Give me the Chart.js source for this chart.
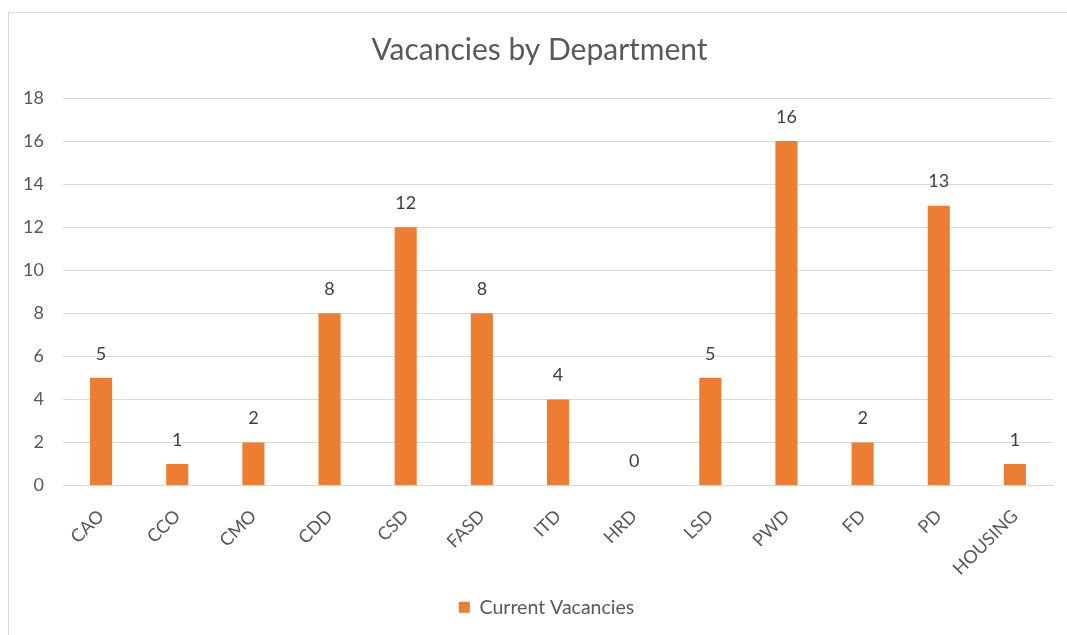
<!DOCTYPE html>
<html>
<head>
<meta charset="utf-8">
<script src="https://cdn.jsdelivr.net/npm/chart.js@4"></script>
<style>
  html, body { margin: 0; padding: 0; background: #fff; overflow: hidden; }
  #frame { position: absolute; left: 8px; top: 12px; width: 1080px; height: 640px; border: 1px solid #d9d9d9; }
  #holder { position: absolute; left: 0; top: 0; width: 1067px; height: 635px; }
</style>
</head>
<body>
<div id="frame"></div>
<div id="holder"><canvas id="myChart"></canvas></div>
<script>
const departments = ['CAO', 'CCO', 'CMO', 'CDD', 'CSD', 'FASD', 'ITD', 'HRD', 'LSD', 'PWD', 'FD', 'PD', 'HOUSING']
const vacancies = [5, 1, 2, 8, 12, 8, 4, 0, 5, 16, 2, 13, 1]
const yTicks = [0, 2, 4, 6, 8, 10, 12, 14, 16, 18]

const textColor = '#595959'
const fontFamily = 'Lato, "Open Sans", sans-serif'

// draws the value above each bar, like the excel data labels
const barValues = {
    id: 'barValues',
    afterDatasetsDraw(chart) {
        const ctx = chart.ctx
        const meta = chart.getDatasetMeta(0)
        ctx.save()
        ctx.fillStyle = '#404040'
        ctx.font = '18px ' + fontFamily
        ctx.textAlign = 'center'
        ctx.textBaseline = 'middle'
        meta.data.forEach((bar, i) => {
            ctx.fillText(String(vacancies[i]), bar.x, bar.y - 24)
        })
        ctx.restore()
    }
}

// excel centres title and legend a bit further right than chart.js does
const nudgeBoxes = {
    id: 'nudgeBoxes',
    afterLayout(chart) {
        chart.titleBlock.left += 13
        chart.titleBlock.right += 13
        chart.legend.left += 20
        chart.legend.right += 20
    }
}

const ctx = document.getElementById('myChart')
const myChart = new Chart(ctx, {
    type: 'bar',
    data: {
        labels: departments,
        datasets: [{
            label: 'Current Vacancies',
            data: vacancies,
            backgroundColor: '#ED7D31',
            borderWidth: 0,
            categoryPercentage: 1,
            barPercentage: 0.29
        }]
    },
    options: {
        responsive: true,
        maintainAspectRatio: false,
        animation: false,
        layout: { padding: { left: 0, right: 14, top: 0, bottom: 8 } },
        scales: {
            y: {
                min: 0,
                max: 18,
                afterBuildTicks(axis) { axis.ticks = yTicks.map(v => ({ value: v })) },
                afterFit(axis) { axis.width = 63 },
                grid: { color: '#d9d9d9', drawTicks: false },
                border: { display: false },
                ticks: { color: textColor, padding: 19, font: { family: fontFamily, size: 18 } }
            },
            x: {
                grid: { display: false },
                border: { color: '#d9d9d9' },
                afterFit(axis) { axis.height = 102 },
                ticks: {
                    color: textColor,
                    minRotation: 45,
                    maxRotation: 45,
                    padding: 12,
                    font: { family: fontFamily, size: 18 }
                }
            }
        },
        plugins: {
            title: {
                display: true,
                text: 'Vacancies by Department',
                color: textColor,
                font: { family: fontFamily, size: 30, weight: 'normal' },
                padding: { top: 32, bottom: 30 }
            },
            legend: {
                position: 'bottom',
                labels: {
                    color: textColor,
                    boxWidth: 11,
                    boxHeight: 11,
                    font: { family: fontFamily, size: 19.5 }
                }
            },
            tooltip: { enabled: false }
        }
    },
    plugins: [barValues, nudgeBoxes]
})
</script>
</body>
</html>
